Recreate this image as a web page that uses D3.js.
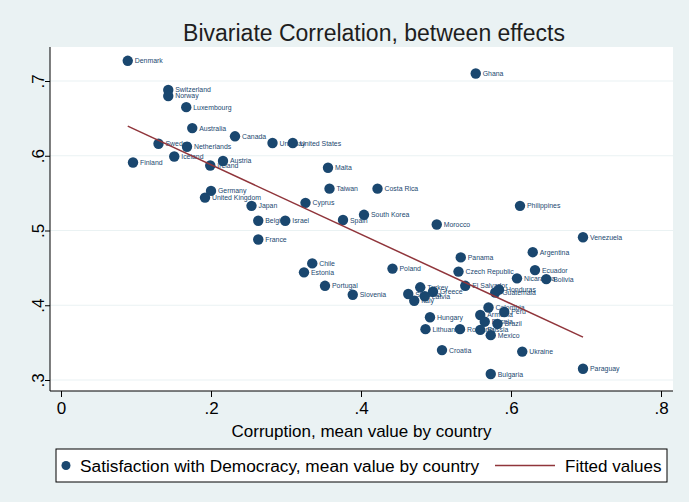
<!DOCTYPE html>
<html>
<head>
<meta charset="utf-8">
<script src="https://cdn.jsdelivr.net/npm/d3@7"></script>
<style>
  body { margin: 0; background: #eaf2f3; }
  svg { display: block; font-family: "Liberation Sans", Arial, sans-serif; }
</style>
</head>
<body>
<svg id="chart" width="689" height="502"></svg>
<script>
// Country means: corruption (x) and satisfaction with democracy (y)
const countries = [
  "Denmark", "Switzerland", "Norway", "Luxembourg", "Australia", "Canada",
  "Uruguay", "United States", "Sweden", "Netherlands", "Iceland", "Finland",
  "Austria", "Ireland", "Malta", "Germany", "United Kingdom", "Japan",
  "Cyprus", "Taiwan", "Costa Rica", "South Korea", "Spain", "Belgium",
  "Israel", "France", "Morocco", "Philippines", "Venezuela", "Argentina",
  "Ecuador", "Nicaragua", "Bolivia", "Panama", "Czech Republic", "El Salvador",
  "Honduras", "Guatemala", "Poland", "Chile", "Estonia", "Portugal",
  "Slovenia", "Slovakia", "Turkey", "Greece", "Latvia", "Italy",
  "Hungary", "Lithuania", "Romania", "Colombia", "Peru", "Armenia",
  "Bosnia", "Brazil", "Russia", "Mexico", "Croatia", "Ukraine",
  "Bulgaria", "Paraguay", "Ghana"
];
const corruption = [
  0.089, 0.143, 0.143, 0.167, 0.175, 0.232,
  0.282, 0.309, 0.130, 0.168, 0.151, 0.096,
  0.216, 0.199, 0.356, 0.200, 0.192, 0.254,
  0.326, 0.358, 0.422, 0.404, 0.376, 0.263,
  0.299, 0.263, 0.501, 0.612, 0.696, 0.629,
  0.632, 0.608, 0.647, 0.533, 0.530, 0.539,
  0.584, 0.579, 0.442, 0.335, 0.324, 0.352,
  0.389, 0.463, 0.479, 0.496, 0.485, 0.471,
  0.492, 0.486, 0.532, 0.570, 0.591, 0.559,
  0.565, 0.582, 0.559, 0.573, 0.508, 0.615,
  0.573, 0.696, 0.553
];
const satisfaction = [
  0.727, 0.688, 0.680, 0.665, 0.637, 0.626,
  0.617, 0.617, 0.616, 0.612, 0.599, 0.591,
  0.593, 0.587, 0.584, 0.553, 0.544, 0.533,
  0.537, 0.556, 0.556, 0.521, 0.514, 0.513,
  0.513, 0.488, 0.508, 0.533, 0.491, 0.471,
  0.447, 0.436, 0.435, 0.464, 0.445, 0.426,
  0.421, 0.417, 0.449, 0.456, 0.444, 0.426,
  0.414, 0.415, 0.424, 0.418, 0.412, 0.406,
  0.384, 0.368, 0.368, 0.397, 0.391, 0.387,
  0.378, 0.375, 0.367, 0.360, 0.340, 0.338,
  0.308, 0.315, 0.710
];
const xTicks = [0, 0.2, 0.4, 0.6, 0.8];
const xTickLabels = ["0", ".2", ".4", ".6", ".8"];
const yTicks = [0.3, 0.4, 0.5, 0.6, 0.7];
const yTickLabels = [".3", ".4", ".5", ".6", ".7"];

const titleText = "Bivariate Correlation, between effects";
const xTitle = "Corruption, mean value by country";
const legendScatter = "Satisfaction with Democracy, mean value by country";
const legendFit = "Fitted values";

const navy = "#1a476f";
const maroon = "#90353b";

const svg = d3.select("#chart");
const W = 689, H = 502;
const plot = { left: 50, right: 673, top: 47, bottom: 391 };

svg.append("rect").attr("width", W).attr("height", H).attr("fill", "#eaf2f3");
svg.append("rect")
  .attr("x", plot.left).attr("y", plot.top)
  .attr("width", plot.right - plot.left).attr("height", plot.bottom - plot.top)
  .attr("fill", "#ffffff");

const x = d3.scaleLinear().domain([0, 0.8]).range([61, 661]);
const y = d3.scaleLinear().domain([0.3, 0.7]).range([380, 81]);

// horizontal grid lines
svg.append("g").selectAll("line").data(yTicks).join("line")
  .attr("x1", plot.left).attr("x2", plot.right)
  .attr("y1", d => y(d)).attr("y2", d => y(d))
  .attr("stroke", "#eaf2f3").attr("stroke-width", 1.2);

// x axis
const xAxis = d3.axisBottom(x).tickValues(xTicks)
  .tickFormat((d, i) => xTickLabels[i]).tickSize(6).tickPadding(5);
const gx = svg.append("g").attr("transform", `translate(0,${plot.bottom})`).call(xAxis);
gx.select(".domain").remove();
gx.selectAll(".tick line").attr("stroke", "#000").attr("stroke-width", 1);
gx.selectAll(".tick text").attr("font-size", 17).attr("fill", "#000")
  .attr("font-family", "Liberation Sans, Arial, sans-serif");
svg.append("line").attr("x1", plot.left).attr("x2", plot.right)
  .attr("y1", plot.bottom).attr("y2", plot.bottom)
  .attr("stroke", "#000").attr("stroke-width", 1);

// y axis, labels turned vertical
const yAxis = d3.axisLeft(y).tickValues(yTicks)
  .tickFormat((d, i) => yTickLabels[i]).tickSize(5).tickPadding(4);
const gy = svg.append("g").attr("transform", `translate(${plot.left},0)`).call(yAxis);
gy.select(".domain").remove();
gy.selectAll(".tick line").attr("stroke", "#000").attr("stroke-width", 1);
gy.selectAll(".tick text")
  .attr("font-size", 17).attr("fill", "#000")
  .attr("font-family", "Liberation Sans, Arial, sans-serif")
  .attr("x", null).attr("dy", null)
  .attr("text-anchor", "middle")
  .attr("transform", "translate(-12,0) rotate(-90)")
  .attr("dominant-baseline", "central");
svg.append("line").attr("x1", plot.left).attr("x2", plot.left)
  .attr("y1", plot.top).attr("y2", plot.bottom)
  .attr("stroke", "#000").attr("stroke-width", 1);

// least-squares fit of satisfaction on corruption
const n = corruption.length;
const mx = d3.mean(corruption), my = d3.mean(satisfaction);
let sxy = 0, sxx = 0;
for (let i = 0; i < n; i++) {
  sxy += (corruption[i] - mx) * (satisfaction[i] - my);
  sxx += (corruption[i] - mx) ** 2;
}
const slope = sxy / sxx, intercept = my - slope * mx;
const [xmin, xmax] = d3.extent(corruption);
const fitPts = [xmin, xmax].map(v => [v, intercept + slope * v]);

// markers and labels
const pts = countries.map((c, i) => ({ c, x: corruption[i], y: satisfaction[i] }));
svg.append("g").selectAll("circle").data(pts).join("circle")
  .attr("cx", d => x(d.x)).attr("cy", d => y(d.y)).attr("r", 5.2)
  .attr("fill", navy);
svg.append("g").selectAll("text").data(pts).join("text")
  .attr("x", d => x(d.x) + 7).attr("y", d => y(d.y))
  .attr("dominant-baseline", "central")
  .attr("font-size", 6.9).attr("fill", navy)
  .text(d => d.c);

svg.append("path")
  .attr("d", d3.line().x(d => x(d[0])).y(d => y(d[1]))(fitPts))
  .attr("fill", "none").attr("stroke", maroon).attr("stroke-width", 1.5);

// title
svg.append("text").attr("x", 374).attr("y", 41)
  .attr("text-anchor", "middle").attr("font-size", 23).attr("fill", "#1e1e1e")
  .text(titleText);

// x axis title
svg.append("text").attr("x", 361.5).attr("y", 437)
  .attr("text-anchor", "middle").attr("font-size", 17).attr("fill", "#000")
  .text(xTitle);

// legend
const lg = svg.append("g");
lg.append("rect").attr("x", 56).attr("y", 449).attr("width", 611).attr("height", 33)
  .attr("fill", "#fff").attr("stroke", "#000").attr("stroke-width", 1);
lg.append("circle").attr("cx", 66).attr("cy", 465.5).attr("r", 4.5).attr("fill", navy);
lg.append("text").attr("x", 80).attr("y", 471.5).attr("font-size", 17.3).attr("fill", "#000")
  .text(legendScatter);
lg.append("line").attr("x1", 495).attr("x2", 555).attr("y1", 465.5).attr("y2", 465.5)
  .attr("stroke", maroon).attr("stroke-width", 1.5);
lg.append("text").attr("x", 565).attr("y", 471.5).attr("font-size", 17).attr("fill", "#000")
  .text(legendFit);
</script>
</body>
</html>
